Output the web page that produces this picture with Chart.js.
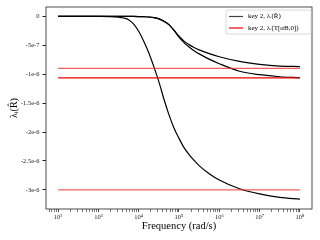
<!DOCTYPE html>
<html>
<head>
<meta charset="utf-8">
<script src="https://cdn.jsdelivr.net/npm/chart.js@4.4.1/dist/chart.umd.min.js"></script>
<style>
html, body { margin: 0; padding: 0; background: #fff; }
</style>
</head>
<body>
<canvas id="c" width="320" height="240"></canvas>
<script>
// frequency points as powers of ten (rad/s)
const freqExp = [2, 2.5, 3, 3.25, 3.5, 3.625, 3.75, 3.875, 4, 4.125, 4.25, 4.375, 4.5, 4.625, 4.75, 4.875,
  5, 5.125, 5.25, 5.375, 5.5, 5.75, 6, 6.5, 7, 7.5, 8];

// eigenvalue curves, key 2
const curveSteep = [0, 0, -0.002e-6, -0.005e-6, -0.015e-6, -0.03e-6, -0.06e-6, -0.135e-6, -0.26e-6, -0.43e-6,
  -0.63e-6, -0.87e-6, -1.13e-6, -1.43e-6, -1.70e-6, -1.93e-6, -2.11e-6, -2.27e-6, -2.39e-6, -2.49e-6,
  -2.58e-6, -2.72e-6, -2.83e-6, -2.98e-6, -3.07e-6, -3.13e-6, -3.16e-6];
const curveUpper = [0, 0, 0, 0, -0.001e-6, -0.001e-6, -0.002e-6, -0.003e-6, -0.005e-6, -0.008e-6,
  -0.013e-6, -0.024e-6, -0.045e-6, -0.085e-6, -0.145e-6, -0.24e-6, -0.345e-6, -0.43e-6, -0.49e-6, -0.54e-6,
  -0.58e-6, -0.645e-6, -0.70e-6, -0.78e-6, -0.83e-6, -0.86e-6, -0.87e-6];
const curveLower = [0, 0, 0, 0, -0.001e-6, -0.001e-6, -0.002e-6, -0.003e-6, -0.005e-6, -0.008e-6,
  -0.013e-6, -0.024e-6, -0.045e-6, -0.085e-6, -0.145e-6, -0.245e-6, -0.36e-6, -0.455e-6, -0.53e-6, -0.595e-6,
  -0.65e-6, -0.74e-6, -0.82e-6, -0.95e-6, -1.01e-6, -1.045e-6, -1.06e-6];

// horizontal reference levels, key 2 (T[aB,0])
const redLevels = [-0.90e-6, -1.066e-6, -3.0e-6];
const redColors = ['rgba(240,40,40,0.75)', '#ee0000', 'rgba(240,40,40,0.75)'];
const redSpan = [1e2, 1e8];

const yTickValues = [-3e-6, -2.5e-6, -2e-6, -1.5e-6, -1e-6, -5e-7, 0];
const yTickLabels = ['-3e-6', '-2.5e-6', '-2e-6', '-1.5e-6', '-1e-6', '-5e-7', '0'];
const xMajorExp = [2, 3, 4, 5, 6, 7, 8];
const xTickLabels = ['10²', '10³', '10⁴', '10⁵', '10⁶', '10⁷', '10⁸'];

const legendLabels = ['key 2, λᵢ(R̂)', 'key 2, λᵢ(T[αB,0])'];

const xMin = Math.pow(10, 1.7), xMax = Math.pow(10, 8.3);

// major + minor log ticks inside the axis range
const xTickValues = [];
for (let e = 1; e <= 8; e++) {
  for (let m = 1; m <= 9; m++) {
    const v = m * Math.pow(10, e);
    if (v >= xMin && v <= xMax) xTickValues.push(v);
  }
}
const isMajor = v => Math.abs(Math.log10(v) - Math.round(Math.log10(v))) < 1e-9;

Chart.defaults.font.family = '"Liberation Serif", "DejaVu Serif", serif';

const datasets = [curveSteep, curveUpper, curveLower].map(arr => ({
  data: arr.map((y, i) => ({ x: Math.pow(10, freqExp[i]), y: y })),
  borderColor: '#000',
  borderWidth: 1.2,
  pointRadius: 0,
  cubicInterpolationMode: 'monotone',
  fill: false,
  order: 1
}));
redLevels.forEach((lvl, i) => {
  datasets.push({
    data: redSpan.map(x => ({ x: x, y: lvl })),
    borderColor: redColors[i],
    borderWidth: 1.2,
    pointRadius: 0,
    fill: false,
    order: 0
  });
});

const framePlugin = {
  id: 'frame',
  afterDatasetsDraw(chart) {
    const ctx = chart.ctx;
    const a = chart.chartArea;
    ctx.save();
    ctx.strokeStyle = '#222';
    ctx.lineWidth = 0.8;
    ctx.strokeRect(a.left, a.top, a.right - a.left, a.bottom - a.top);

    // legend box, upper right
    const lx = 226, ly = 10, lw = 85, lh = 24;
    ctx.fillStyle = 'rgba(255,255,255,0.85)';
    ctx.strokeStyle = '#d0d0d0';
    ctx.lineWidth = 0.8;
    ctx.beginPath();
    ctx.roundRect(lx, ly, lw, lh, 2);
    ctx.fill();
    ctx.stroke();
    const sampleColors = ['rgba(0,0,0,0.75)', '#ee0000'];
    ctx.font = '7px "Liberation Serif", "DejaVu Serif", serif';
    ctx.textBaseline = 'middle';
    ctx.textAlign = 'left';
    legendLabels.forEach((t, i) => {
      const y = ly + 6.5 + i * 11.5;
      ctx.strokeStyle = sampleColors[i];
      ctx.lineWidth = 1.2;
      ctx.beginPath();
      ctx.moveTo(lx + 3, y);
      ctx.lineTo(lx + 17, y);
      ctx.stroke();
      ctx.fillStyle = '#000';
      ctx.fillText(t, lx + 22, y);
    });
    ctx.restore();
  }
};

new Chart(document.getElementById('c'), {
  type: 'line',
  data: { datasets: datasets },
  options: {
    responsive: false,
    animation: false,
    devicePixelRatio: 1,
    layout: { padding: { left: 0, right: 8, top: 7, bottom: 0 } },
    plugins: {
      legend: { display: false },
      tooltip: { enabled: false }
    },
    scales: {
      x: {
        type: 'logarithmic',
        min: xMin,
        max: xMax,
        border: { display: false },
        grid: {
          display: true,
          drawOnChartArea: false,
          drawTicks: true,
          tickLength: 3,
          tickColor: '#222',
          tickWidth: c => (c.tick && isMajor(c.tick.value)) ? 0.8 : 0.6
        },
        afterBuildTicks: s => { s.ticks = xTickValues.map(v => ({ value: v })); },
        afterFit: s => { s.height = 31; },
        ticks: {
          autoSkip: false,
          maxRotation: 0,
          padding: 1,
          color: '#222',
          font: { size: 6.5 },
          callback: v => {
            if (!isMajor(v)) return '';
            const k = xMajorExp.indexOf(Math.round(Math.log10(v)));
            return k >= 0 ? xTickLabels[k] : '';
          }
        },
        title: {
          display: true,
          text: 'Frequency (rad/s)',
          color: '#000',
          font: { size: 10.5 },
          padding: { top: 0, bottom: 7.7 }
        }
      },
      y: {
        min: -3.33e-6,
        max: 0.16e-6,
        border: { display: false },
        grid: {
          display: true,
          drawOnChartArea: false,
          drawTicks: true,
          tickLength: 3.5,
          tickColor: '#222'
        },
        afterBuildTicks: s => { s.ticks = yTickValues.map(v => ({ value: v })); },
        afterFit: s => { s.width = 46; },
        ticks: {
          padding: 3,
          color: '#222',
          font: { size: 6.5 },
          callback: v => {
            let best = 0;
            yTickValues.forEach((t, i) => {
              if (Math.abs(t - v) < Math.abs(yTickValues[best] - v)) best = i;
            });
            return yTickLabels[best];
          }
        },
        title: {
          display: true,
          text: 'λᵢ(R̂)',
          color: '#000',
          font: { size: 10 },
          padding: { top: 8, bottom: 0 }
        }
      }
    }
  },
  plugins: [framePlugin]
});
</script>
</body>
</html>
